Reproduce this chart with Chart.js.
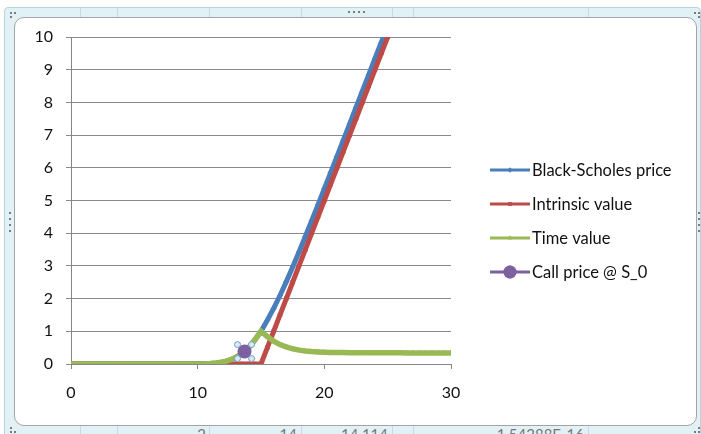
<!DOCTYPE html>
<html>
<head>
<meta charset="utf-8">
<script src="https://cdn.jsdelivr.net/npm/chart.js@4.4.1/dist/chart.umd.min.js"></script>
<style>
  html, body { margin: 0; padding: 0; width: 701px; height: 434px; overflow: hidden; background: #ffffff; position: relative; font-family: Lato, sans-serif; }
  #frame { position: absolute; left: 4px; top: 7px; width: 697px; height: 440px; background: #e2f1f5; border: 1px solid #b7d4de; border-radius: 4px; box-sizing: border-box; }
  .col { position: absolute; top: 8px; width: 1px; height: 426px; background: #c6dce4; }
  .cell { position: absolute; top: 427px; font: 15px Lato, sans-serif; line-height: 15px; color: #787878; text-align: right; }
  #card { position: absolute; left: 14px; top: 17px; width: 683px; height: 409px; background: #ffffff; border: 1px solid #a4a4a4; border-radius: 10px; box-sizing: border-box; }
  .dot { position: absolute; width: 2px; height: 2px; background: #7c7c7c; }
  canvas { position: absolute; left: 0; top: 0; }
</style>
</head>
<body>
<div id="frame"></div>
<div class="col" style="left:80px"></div>
<div class="col" style="left:117px"></div>
<div class="col" style="left:209px"></div>
<div class="col" style="left:301px"></div>
<div class="col" style="left:392px"></div>
<div class="col" style="left:413px"></div>
<div class="col" style="left:588px"></div>
<div class="cell" style="left:150px;width:56px">2</div>
<div class="cell" style="left:240px;width:57px">14</div>
<div class="cell" style="left:302px;width:86px">14.114</div>
<div class="cell" style="left:414px;width:170px">1.54288E-16</div>
<div id="card"></div>
<!-- frame handles -->
<div class="dot" style="left:10px;top:12px"></div><div class="dot" style="left:14px;top:12px"></div><div class="dot" style="left:10px;top:16px"></div>
<div class="dot" style="left:348px;top:11px"></div><div class="dot" style="left:353px;top:11px"></div><div class="dot" style="left:358px;top:11px"></div><div class="dot" style="left:363px;top:11px"></div>
<div class="dot" style="left:694px;top:12px"></div><div class="dot" style="left:698px;top:12px"></div><div class="dot" style="left:698px;top:16px"></div>
<div class="dot" style="left:9px;top:212px"></div><div class="dot" style="left:9px;top:218px"></div><div class="dot" style="left:9px;top:224px"></div><div class="dot" style="left:9px;top:230px"></div>
<div class="dot" style="left:698px;top:212px"></div><div class="dot" style="left:698px;top:218px"></div><div class="dot" style="left:698px;top:224px"></div><div class="dot" style="left:698px;top:230px"></div>
<div class="dot" style="left:10px;top:427px"></div><div class="dot" style="left:14px;top:431px"></div><div class="dot" style="left:10px;top:431px"></div>
<div class="dot" style="left:698px;top:427px"></div><div class="dot" style="left:698px;top:431px"></div><div class="dot" style="left:694px;top:431px"></div>
<canvas id="c" width="701" height="434"></canvas>
<script>
// Underlying spot prices S
const spot = [0, 0.5, 1, 1.5, 2, 2.5, 3, 3.5, 4, 4.5, 5, 5.5, 6, 6.5, 7, 7.5, 8, 8.5, 9, 9.5,
  10, 10.5, 11, 11.5, 12, 12.5, 13, 13.5, 14, 14.5, 15, 15.5, 16, 16.5, 17, 17.5, 18, 18.5, 19, 19.5,
  20, 20.5, 21, 21.5, 22, 22.5, 23, 23.5, 24, 24.5, 25, 25.5, 26, 26.5, 27, 27.5, 28, 28.5, 29, 29.5, 30];

// Black-Scholes call price
const bsPrice = [0, 0, 0, 0, 0, 0, 0, 0, 0, 0, 0, 0, 0, 0, 0, 0, 0, 0, 0, 0,
  0.001, 0.004, 0.012, 0.028, 0.06, 0.115, 0.2, 0.33, 0.49, 0.73, 1.0, 1.34, 1.7, 2.095, 2.52, 2.965, 3.425, 3.898, 4.38, 4.868,
  5.36, 5.855, 6.351, 6.848, 7.346, 7.845, 8.344, 8.843, 9.342, 9.842, 10.341, 10.841, 11.341, 11.84, 12.34, 12.84, 13.34, 13.84, 14.34, 14.84, 15.34];

// Intrinsic value max(S - K, 0)
const intrinsic = [0, 0, 0, 0, 0, 0, 0, 0, 0, 0, 0, 0, 0, 0, 0, 0, 0, 0, 0, 0,
  0, 0, 0, 0, 0, 0, 0, 0, 0, 0, 0, 0.5, 1, 1.5, 2, 2.5, 3, 3.5, 4, 4.5,
  5, 5.5, 6, 6.5, 7, 7.5, 8, 8.5, 9, 9.5, 10, 10.5, 11, 11.5, 12, 12.5, 13, 13.5, 14, 14.5, 15];

// Time value = price - intrinsic
const timeValue = [0, 0, 0, 0, 0, 0, 0, 0, 0, 0, 0, 0, 0, 0, 0, 0, 0, 0, 0, 0,
  0.001, 0.004, 0.012, 0.028, 0.06, 0.115, 0.2, 0.33, 0.49, 0.73, 1.0, 0.84, 0.7, 0.595, 0.52, 0.465, 0.425, 0.398, 0.38, 0.368,
  0.36, 0.355, 0.351, 0.348, 0.346, 0.345, 0.344, 0.343, 0.342, 0.342, 0.341, 0.341, 0.341, 0.34, 0.34, 0.34, 0.34, 0.34, 0.34, 0.34, 0.34];

// Current spot and its call price
const callSpot = [13.7];
const callPrice = [0.38];

const seriesNames = ['Black-Scholes price', 'Intrinsic value', 'Time value', 'Call price @ S_0'];
const seriesColors = ['#4a7ebb', '#be4b48', '#98b954', '#7d60a0'];
const xTicks = { min: 0, max: 30, step: 10 };
const yTicks = { min: 0, max: 10, step: 1 };

const toPoints = (xs, ys) => xs.map((x, i) => ({ x: x, y: ys[i] }));

const FONT = 'Lato, sans-serif';

// Legend drawn to the right of the plot, with line + marker swatches
const sideLegend = {
  id: 'sideLegend',
  afterDraw(chart) {
    const c = chart.ctx;
    const rows = [170, 204, 238, 272];
    const styles = ['rectRot', 'rect', 'triangle', 'circle'];
    c.save();
    chart.data.datasets.forEach((ds, i) => {
      const y = rows[i];
      c.strokeStyle = seriesColors[i];
      c.lineWidth = 3;
      c.beginPath();
      c.moveTo(490, y);
      c.lineTo(530, y);
      c.stroke();
      c.fillStyle = seriesColors[i];
      Chart.helpers.drawPoint(c, { pointStyle: styles[i], radius: i === 3 ? 6.5 : 2.5, borderWidth: 0 }, 510, y);
      c.fill();
      c.fillStyle = '#111';
      c.font = '16.5px ' + FONT;
      c.textBaseline = 'middle';
      c.textAlign = 'left';
      c.fillText(ds.label, 532, y + 1);
    });
    c.restore();
  }
};

// Selection handles around the current-price marker
const pointHandles = {
  id: 'pointHandles',
  afterDatasetsDraw(chart) {
    const meta = chart.getDatasetMeta(3);
    const p = meta.data[0];
    if (!p) return;
    const c = chart.ctx;
    c.save();
    [[-7, -7], [7, -7], [-7, 7], [7, 7]].forEach(([dx, dy]) => {
      c.beginPath();
      c.arc(p.x + dx, p.y + dy, 3, 0, Math.PI * 2);
      c.fillStyle = '#dce9f3';
      c.fill();
      c.lineWidth = 1;
      c.strokeStyle = '#6e9cc2';
      c.stroke();
    });
    c.restore();
  }
};

const lineSet = (i, ys, style, order, width) => ({
  label: seriesNames[i],
  data: toPoints(spot, ys),
  borderColor: seriesColors[i],
  backgroundColor: seriesColors[i],
  pointBackgroundColor: seriesColors[i],
  pointBorderColor: seriesColors[i],
  borderWidth: width,
  pointStyle: style,
  pointRadius: 2.5,
  pointBorderWidth: 1,
  tension: 0,
  order: order
});

new Chart(document.getElementById('c'), {
  type: 'line',
  data: {
    datasets: [
      lineSet(0, bsPrice, 'rectRot', 4, 5),
      lineSet(1, intrinsic, 'rect', 3, 5),
      lineSet(2, timeValue, 'triangle', 2, 5.5),
      {
        label: seriesNames[3],
        data: toPoints(callSpot, callPrice),
        showLine: false,
        backgroundColor: seriesColors[3],
        pointBackgroundColor: seriesColors[3],
        pointBorderColor: seriesColors[3],
        pointBorderWidth: 0,
        pointRadius: 7,
        pointStyle: 'circle',
        order: 1
      }
    ]
  },
  options: {
    responsive: false,
    animation: false,
    devicePixelRatio: 1,
    events: [],
    layout: { padding: { left: 0, top: 37, right: 250, bottom: 0 } },
    plugins: { legend: { display: false }, tooltip: { enabled: false } },
    scales: {
      x: {
        type: 'linear',
        min: xTicks.min, max: xTicks.max,
        ticks: { stepSize: xTicks.step, color: '#111', font: { family: FONT, size: 16 }, padding: 14, maxRotation: 0 },
        grid: { drawOnChartArea: false, drawTicks: true, tickLength: 5, color: '#868686' },
        border: { color: '#868686', width: 1 },
        afterFit(s) { s.height = 70; }
      },
      y: {
        min: yTicks.min, max: yTicks.max,
        ticks: { stepSize: yTicks.step, color: '#111', font: { family: FONT, size: 16 }, padding: 13 },
        grid: { color: '#8a8a8a', tickLength: 5 },
        border: { color: '#868686', width: 1 },
        afterFit(s) { s.width = 71; }
      }
    }
  },
  plugins: [sideLegend, pointHandles]
});
</script>
</body>
</html>
